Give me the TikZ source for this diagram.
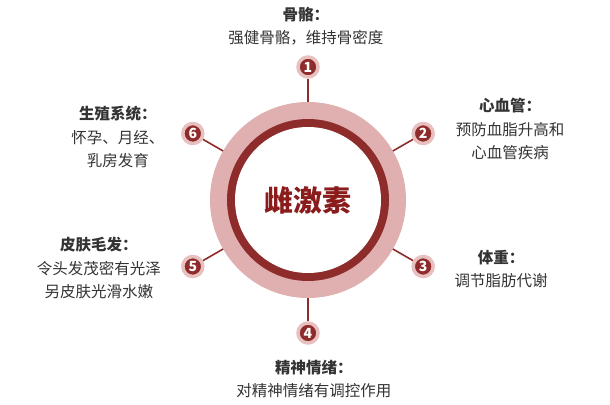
\documentclass[tikz,border=0pt]{standalone}
\usepackage{fontspec}
\setmainfont{Noto Sans CJK SC}
\usepackage{xcolor}
\definecolor{ringdark}{HTML}{8E2B2B}
\definecolor{ringpale}{HTML}{E0B0B0}
\definecolor{halopale}{HTML}{E8C0C0}
\definecolor{textgray}{HTML}{333333}
\definecolor{titlered}{HTML}{8B1C1C}
\usepackage{tikz}

\begin{document}
\begin{tikzpicture}[x=1pt, y=1pt,
  num/.style={circle, fill=ringdark, draw=halopale, line width=3.5pt, minimum size=20pt, inner sep=0pt, text=white, font=\fontsize{14}{14}\selectfont\bfseries},
  info/.style={align=center, text=textgray, font=\fontsize{15.5}{23.5}\selectfont},
  link/.style={ringdark, line width=1.6pt}]
\useasboundingbox (-308,-204) rectangle (302,200);

% Centre ring
\node[circle, fill=ringpale, minimum size=196pt, inner sep=0pt, outer sep=0pt] (ring) at (0,0) {};
\node[circle, fill=ringdark, minimum size=162pt, inner sep=0pt] (band) at (0,0) {};
\node[circle, fill=white, minimum size=146pt, inner sep=0pt, text=titlered, font=\fontsize{29}{29}\selectfont\bfseries] (core) at (0,0) {雌激素};

% Numbers
\node[num] (n1) at (90:133) {1};
\node[num] (n2) at (30:133) {2};
\node[num] (n3) at (-30:133) {3};
\node[num] (n4) at (-90:133) {4};
\node[num] (n5) at (-150:133) {5};
\node[num] (n6) at (150:133) {6};

\draw[link] (ring) -- (n1);
\draw[link] (ring) -- (n2);
\draw[link] (ring) -- (n3);
\draw[link] (ring) -- (n4);
\draw[link] (ring) -- (n5);
\draw[link] (ring) -- (n6);

% Labels
\node[info] (lab1) at (-2,174) {\textbf{骨骼：}\\强健骨骼，维持骨密度};
\node[info] (lab2) at (202,71) {\textbf{心血管：}\\预防血脂升高和\\心血管疾病};
\node[info] (lab3) at (193,-69) {\textbf{体重：}\\调节脂肪代谢};
\node[info] (lab4) at (6,-179) {\textbf{精神情绪：}\\对精神情绪有调控作用};
\node[info] (lab5) at (-209,-68) {\textbf{皮肤毛发：}\\令头发茂密有光泽\\另皮肤光滑水嫩};
\node[info] (lab6) at (-190,63) {\textbf{生殖系统：}\\怀孕、月经、\\乳房发育};
\end{tikzpicture}
\end{document}
